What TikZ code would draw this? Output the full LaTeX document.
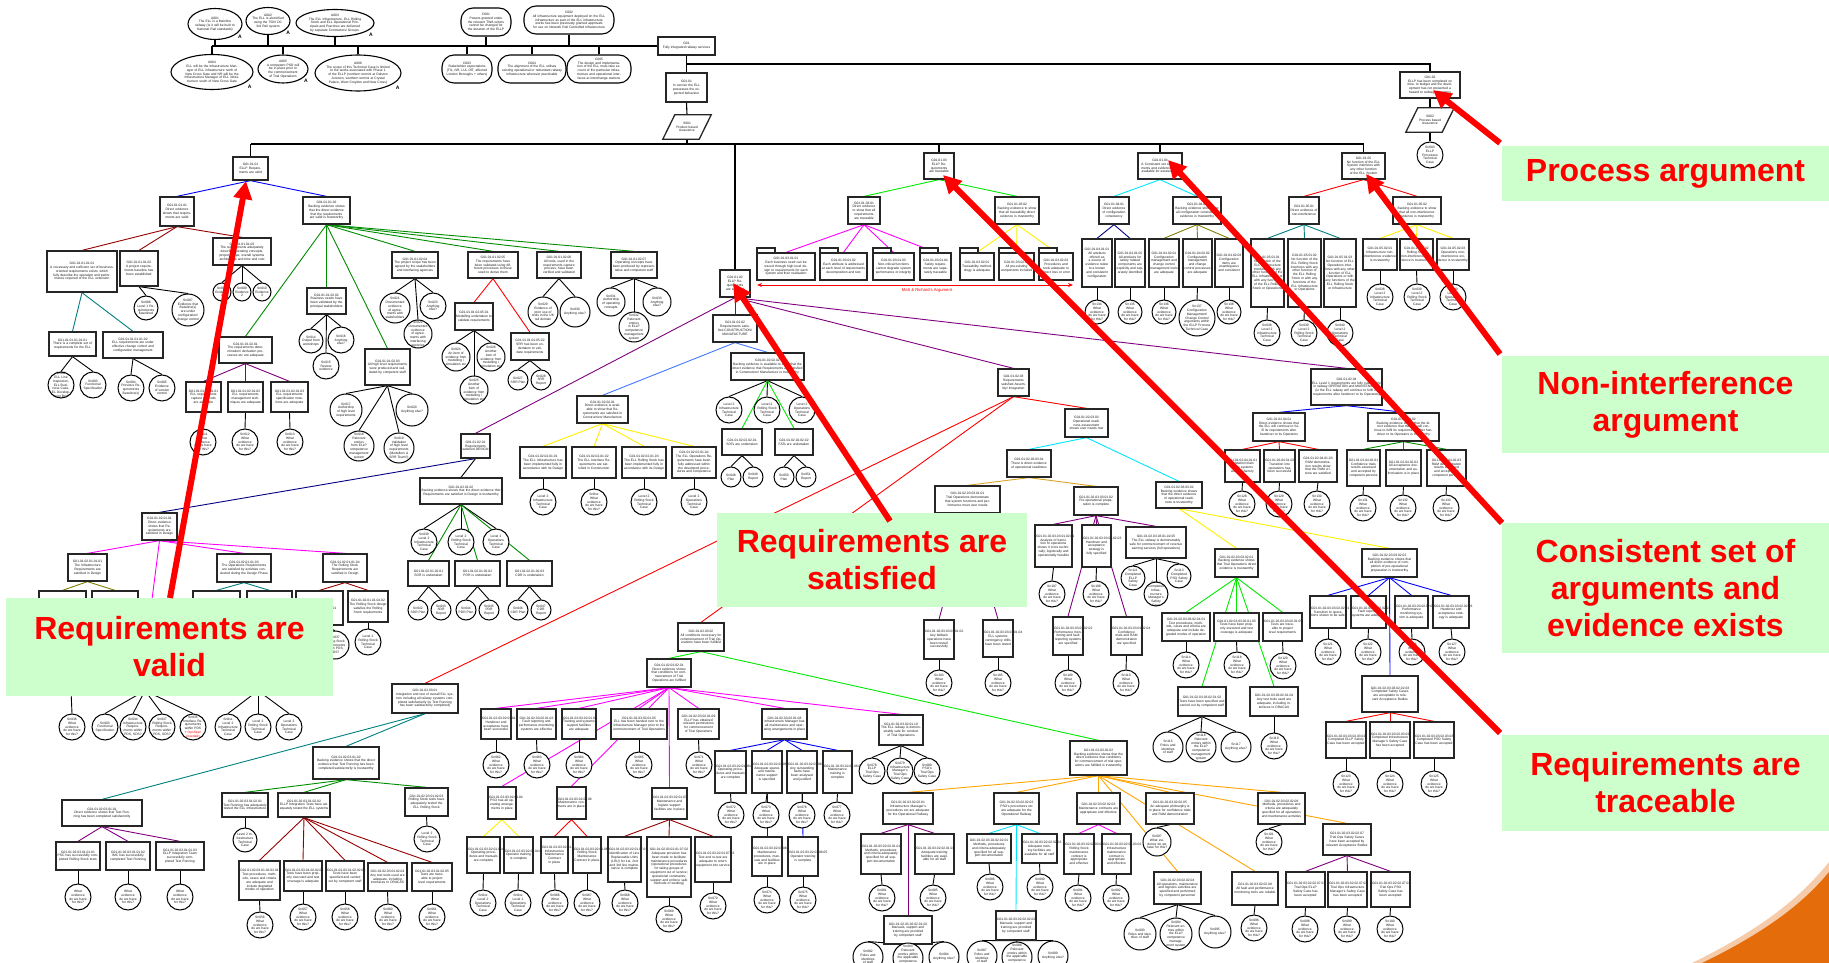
\documentclass[tikz,border=0pt]{standalone}
\usepackage{fontspec}
\setmainfont{Liberation Sans}
\usetikzlibrary{shapes.geometric,arrows.meta,calc}
\pgfdeclarelayer{back}
\pgfdeclarelayer{bg}
\pgfsetlayers{back,bg,main}
\definecolor{calloutgreen}{RGB}{204,255,204}
\definecolor{darkred}{RGB}{150,0,0}
\definecolor{lime}{RGB}{0,235,0}
\definecolor{navyb}{RGB}{0,0,128}
\definecolor{olivec}{RGB}{128,128,0}
\definecolor{tealc}{RGB}{0,128,128}
\definecolor{purplec}{RGB}{128,0,128}
\definecolor{cornf}{RGB}{70,120,255}
\definecolor{goldc}{RGB}{218,165,32}
\definecolor{orangec}{RGB}{255,165,0}
\definecolor{cornerorange}{RGB}{228,108,10}
\definecolor{greenc}{RGB}{0,140,0}
\definecolor{cyanc}{RGB}{0,230,255}
\definecolor{yellowc}{RGB}{255,240,0}
\definecolor{magc}{RGB}{255,0,255}
\definecolor{bluec}{RGB}{0,0,255}
\definecolor{redc}{RGB}{255,0,0}
\tikzset{
  gbox/.style={draw=black!85,line width=1.3pt,fill=white,inner sep=0pt,rectangle},
  gtxt/.style={font=\fontsize{3.3}{3.8}\selectfont,align=center,inner sep=0pt,text=black!90},
  sncirc/.style={draw=black,line width=1pt,fill=white,circle,inner sep=0pt},
  con/.style={line width=0.9pt},
  ctxline/.style={draw=black,line width=1.1pt},
  callout/.style={fill=calloutgreen,draw=none,rectangle,inner sep=0pt,align=center,text=red,font=\fontsize{32}{37}\selectfont\bfseries},
  bigarrow/.style={draw=red,line width=6pt,-{Triangle[length=18pt,width=18pt]}},
}
\newcommand{\gbx}[6]{%
  \pgfmathsetmacro{\gxc}{(#2+#4)/2}\pgfmathsetmacro{\gyc}{(#3+#5)/2}%
  \pgfmathsetmacro{\gw}{#4-#2}\pgfmathsetmacro{\gh}{#5-#3}\pgfmathsetmacro{\gtw}{#4-#2-2}%
  \node[gbox,minimum width=\gw pt,minimum height=\gh pt] (#1) at (\gxc,\gyc) {};%
  \node[gtxt,text width=\gtw pt] at (#1.center) {#6};}
\newcommand{\fbx}[6]{%
  \draw[gbox] (#2,{#3-5}) rectangle ({#2+18},#3);%
  \gbx{#1}{#2}{#3}{#4}{#5}{#6}}
\newcommand{\snc}[5]{%
  \pgfmathsetmacro{\sdia}{2*#4}\pgfmathsetmacro{\stw}{1.5*#4}%
  \node[sncirc,minimum size=\sdia pt] (#1) at (#2,#3) {};%
  \node[gtxt,text width=\stw pt] at (#1.center) {#5};}
\newcommand{\ctxa}[6]{%
  \node[ellipse,ctxline,fill=white,minimum width=#4pt,minimum height=#5pt,inner sep=0pt] (#1) at (#2,#3) {};%
  \pgfmathsetmacro{\ctw}{0.76*#4}%
  \node[gtxt,text width=\ctw pt] at (#1.center) {#6};%
  \node[font=\fontsize{5}{5}\selectfont\bfseries,inner sep=0pt] at ({#2+0.46*#4},{#3+0.42*#5}) {A};}
\newcommand{\ctxc}[6]{%
  \node[rectangle,rounded corners=12pt,ctxline,fill=white,minimum width=#4pt,minimum height=#5pt,inner sep=0pt] (#1) at (#2,#3) {};%
  \pgfmathsetmacro{\ctw}{#4-8}%
  \node[gtxt,text width=\ctw pt] at (#1.center) {#6};}
\newcommand{\pgram}[4]{%
  \node[inner sep=0pt,minimum width=36pt,minimum height=24pt] (#1) at (#2,#3) {};%
  \draw[gbox] ($(#1.south west)+(-6,0)$) -- ($(#1.south east)+(-6,0)$) -- ($(#1.north east)+(6,0)$) -- ($(#1.north west)+(6,0)$) -- cycle;%
  \node[gtxt,text width=30pt] at (#1.center) {#4};}
\newcommand{\lks}[3]{\begin{pgfonlayer}{bg}\foreach \kid in {#3}{\draw[con,#1] (#2.south) -- (\kid.north);}\end{pgfonlayer}}
\newcommand{\wev}{What evidence do we have for this?}
\begin{document}
\begin{tikzpicture}[x=1pt,y=-1pt]
\useasboundingbox (0,0) rectangle (1829,963);
\begin{pgfonlayer}{back}
\fill[white] (0,0) rectangle (1829,963);
\end{pgfonlayer}
% ---------------- top contexts
\ctxa{A001}{215}{24}{54}{31}{A001\\The ELL is a Mainline railway (ie it will be built to National Rail standards)}
\ctxa{A002}{268}{21}{44}{27}{A002\\The ELL is electrified using the 750V DC 3rd Rail system}
\ctxa{A003}{335}{23}{78}{27}{A003\\The ELL Infrastructure, ELL Rolling Stock and ELL Operational Principals and Practices are delivered by separate Contractors/ Groups.}
\ctxc{C001}{486}{22}{50}{28}{C001\\Powers granted under the relevant TWA orders cannot be changed for the duration of the ELLP}
\ctxc{C002}{569}{20}{90}{28}{C002\\All infrastructure equipment deployed on the ELL infrastructure as part of the ELL infrastructure works has been previously granted approvals for use on Network Rail Controlled Infrastructure}
\ctxa{A004}{212}{72}{82}{35}{A004\\ELL will be the Infrastructure Manager of ELL infrastructure north of New Cross Gate and NR will be the Infrastructure Manager of ELL infrastructure south of New Cross Gate}
\ctxa{A005}{283}{69}{50}{28}{A005\\A competent PSO will be in place prior to the commencement of Trial Operations}
\ctxa{A006}{358}{73}{86}{36}{A006\\The scope of this Technical Case is limited to the works associated with Phase 1 of the ELLP (northern termini at Dalston Junction, southern termini at Crystal Palace, West Croydon and New Cross)}
\ctxc{C003}{467}{69}{50}{28}{C003\\Stakeholder expectations (TfL, NR, LUL DfT, affected London Boroughs + others)}
\ctxc{C004}{532}{69}{68}{28}{C004\\The alignment of the ELL utilises existing operational or redundant railway infrastructure wherever practicable}
\ctxc{C005}{599}{69}{64}{28}{C005\\The design and implementation of the ELL must take account of the particular infrastructure and operational interfaces at interchange stations}
\gbx{G01}{658}{37}{715}{55}{G01\\Fully integrated railway services}
\gbx{G0101}{666}{73}{707}{102}{G01.01\\In service the ELL possesses the expected behaviour}
\pgram{S001}{687}{127}{S001\\Product based Assurance}
\gbx{G0102}{1400}{72}{1460}{98}{G01.02\\ELLP has been completed on time, to budget and the development has not presented a hazard to railway operations}
\pgram{S002}{1430}{120}{S002\\Process based Assurance}
\snc{Sn003}{1430}{155}{13}{Sn003\\ELLP Processes Technical Case}
\coordinate (y64) at (0,64);
\coordinate (y144) at (0,144);
\begin{pgfonlayer}{bg}
\draw[ctxline] (G01.west) -- (A004.north |- G01.west);
\foreach \cx in {A001,A002,A003,C001,C002}{\draw[ctxline] (\cx.south) -- (\cx.south |- G01.west);}
\foreach \cx in {A004,A005,A006,C003,C004,C005}{\draw[ctxline] (\cx.north) -- (\cx.north |- G01.west);}
\draw[ctxline] (G01.south) -- (G0101.north);
\draw[ctxline] (G0101.south) -- (S001.north);
\draw[ctxline] (G01.south |- y64) -| (G0102.north);
\draw[ctxline] (G0102.south) -- (S002.north);
\draw[ctxline] (S002.south) -- (Sn003.north);
\draw[ctxline] (S001.south) -- (S001.south |- y144);
\end{pgfonlayer}
% ---------------- level 1 goals
\gbx{V}{233}{157}{268}{180}{G01.01.01\\ELLP Requirements are valid}
\gbx{S}{720}{270}{750}{297}{G01.01.02\\ELLP Requirements are satisfied}
\gbx{T}{924}{153}{954}{179}{G01.01.03\\ELLP Requirements are traceable}
\gbx{K}{1138}{153}{1182}{179}{G01.01.04\\A Consistent set of arguments and evidences are available for assessment}
\gbx{N}{1342}{153}{1385}{179}{G01.01.05\\No function of the ELL System interferes with any other function of the ELL System}
\begin{pgfonlayer}{bg}
\draw[ctxline] (V.north |- y144) -- (N.north |- y144);
\foreach \cx in {V,S,T,K,N}{\draw[ctxline] (\cx.north |- y144) -- (\cx.north);}
\end{pgfonlayer}
% ---------------- VALID subtree
\gbx{V1}{160}{197}{194}{226}{G01.01.01.01\\Direct evidence shows that requirements are valid}
\gbx{V2}{303}{197}{350}{224}{G01.01.01.02\\Backing evidence shows that the direct evidence that the requirements are valid is trustworthy}
\lks{bluec}{V}{V1,V2}
\gbx{V11}{47}{251}{117}{292}{G01.01.01.01.01\\A necessary and sufficient set of business-oriented requirements exists, which fully describe the operation and performance required of the ELL extension}
\gbx{V12}{120}{251}{158}{286}{G01.01.01.01.02\\A project requirements baseline has been established}
\gbx{V13}{213}{238}{271}{265}{G01.01.01.01.03\\The requirements adequately describe operating concepts, project scope, overall systems architecture and time and cost}
\lks{darkred}{V1}{V11,V12,V13}
\snc{s6}{146}{308}{12}{Sn006\\Level 1 Requirements baselined}
\snc{s7}{188}{310}{16}{Sn007\\Evidence that Baseline(s) are under configuration/ change control}
\lks{black}{V12}{s6,s7}
\snc{s8}{222}{292}{9}{Sn008\\Evidence 1}
\snc{s9}{242}{292}{9}{Sn009\\Evidence 2}
\snc{s10}{262}{292}{9}{Sn010\\Evidence 3}
\lks{black}{V13}{s8,s9,s10}
\gbx{V111}{49}{332}{96}{356}{G01.01.01.01.01.01\\There is a complete set of requirements for the ELL}
\gbx{V112}{103}{332}{163}{358}{G01.01.01.01.01.02\\ELL requirements are under effective change control and configuration management}
\lks{tealc}{V11}{V111,V112}
\snc{s2}{61}{385}{13}{Sn002\\ELL Line Inspection, ELL Business Case, EL Development Brief}
\snc{s3}{93}{385}{13}{Sn003\\Functional Specification}
\snc{s4}{131}{388}{13}{Sn004\\Previous Requirements Baseline(s)}
\snc{s5}{162}{388}{13}{Sn005\\Evidence of version control}
\lks{black}{V111}{s2,s3}
\lks{black}{V112}{s4,s5}
\gbx{V21}{219}{337}{272}{363}{G01.01.01.02.01\\The requirements determination/ derivation processes etc are adequate}
\gbx{V22}{307}{288}{346}{314}{G01.01.01.02.02\\Business needs have been validated by the principal stakeholders}
\gbx{V23}{365}{349}{410}{385}{G01.01.01.02.03\\All high level requirements were produced and validated by competent staff}
\gbx{V24}{392}{252}{438}{278}{G01.01.01.02.04\\The project scope has been agreed by the stakeholders and interfacing agencies}
\gbx{V25}{468}{252}{518}{278}{G01.01.01.02.05\\The requirements have been validated using different processes to those used to derive them}
\gbx{V26}{537}{252}{581}{278}{G01.01.01.02.06\\All tools, used in the requirements capture process, have been verified and validated}
\gbx{V27}{611}{252}{657}{278}{G01.01.01.02.07\\Operating concepts have been produced by representative and competent staff}
\lks{greenc}{V2}{V21,V22,V23,V24,V25,V26,V27}
\gbx{V211}{186}{382}{221}{412}{G01.01.01.02.01.01\\ELL requirements capture methods are adequate}
\gbx{V212}{228}{382}{263}{412}{G01.01.01.02.01.02\\ELL requirements management techniques are adequate}
\gbx{V213}{271}{382}{308}{412}{G01.01.01.02.01.03\\ELL requirements specification notations are adequate}
\lks{purplec}{V21}{V211,V212,V213}
\snc{s11}{203}{442}{13}{Sn011\\\wev}
\snc{s12}{245}{442}{13}{Sn012\\\wev}
\snc{s13}{290}{442}{13}{Sn013\\\wev}
\lks{black}{V211}{s11}\lks{black}{V212}{s12}\lks{black}{V213}{s13}
\snc{s14}{311}{341}{12}{Sn014\\Output from workshops}
\snc{s15}{326}{366}{13}{Sn015\\Review evidence}
\snc{s16}{341}{340}{13}{Sn016\\Anything else?}
\lks{black}{V22}{s14,s15,s16}
\snc{s17}{346}{410}{16}{Sn017\\Authorship of high level requirements}
\snc{s18}{359}{446}{15}{Sn018\\Relevant entries from ELLP competence management system}
\snc{s19}{399}{448}{15}{Sn019\\Validation of high level requirements (Modellers \& SRR Team?)}
\snc{s20}{412}{410}{16}{Sn020\\Anything else?}
\lks{black}{V23}{s17,s18,s19,s20}
\snc{s21}{395}{308}{15}{Sn021\\Documented evidence of agreements with stakeholders}
\snc{s22}{418}{334}{14}{Sn022\\Documented evidence of agreements with interfacing agencies}
\snc{s23}{433}{306}{13}{Sn023\\Anything else?}
\lks{black}{V24}{s21,s22,s23}
\gbx{V251}{455}{303}{493}{330}{G01.01.01.02.05.01\\Modelling undertaken to validate requirements}
\gbx{V252}{511}{333}{549}{360}{G01.01.01.02.05.02\\SRR has been undertaken to validate requirements}
\lks{redc}{V25}{V251,V252}
\snc{s24}{456}{357}{14}{Sn024\\An item of evidence from modelling / simulation etc}
\snc{s25}{474}{390}{14}{Sn025\\Another item of evidence from modelling / simulation etc}
\snc{s26}{491}{357}{14}{Sn026\\Another item of evidence from modelling / simulation etc}
\lks{black}{V251}{s24,s25,s26}
\snc{s27}{518}{380}{10}{Sn027\\SRR Plan}
\snc{s28}{541}{380}{10}{Sn028\\SRR Report}
\lks{black}{V252}{s27,s28}
\snc{s29}{543}{312}{15}{Sn029\\Evidence of prior use of tools in the UK rail domain}
\snc{s30}{575}{312}{15}{Sn030\\Anything else?}
\lks{black}{V26}{s29,s30}
\snc{s31}{611}{302}{14}{Sn031\\Authorship of operating concepts}
\snc{s32}{634}{327}{15}{Sn032\\Relevant entries in ELLP competence management system}
\snc{s33}{657}{302}{14}{Sn033\\Anything else?}
\lks{black}{V27}{s31,s32,s33}
% ---------------- TRACEABLE subtree
\gbx{T1}{848}{197}{880}{224}{G01.01.03.01\\Direct evidence to show that all requirements are traceable}
\gbx{T2}{995}{197}{1039}{224}{G01.01.03.02\\Backing evidence to show that all traceability direct evidence is trustworthy}
\lks{lime}{T}{T1,T2}
\fbx{T11}{757}{253}{815}{280}{G01.01.03.01.01\\Each business need can be traced through high level design to requirements for each system and their realisation}
\fbx{T12}{820}{253}{867}{280}{G01.01.03.01.02\\Each attribute is addressed at each level of requirements decomposition and test}
\fbx{T13}{873}{253}{914}{280}{G01.01.03.01.03\\Non-critical functions cannot degrade system performance or integrity}
\fbx{T14}{920}{253}{951}{280}{G01.01.03.01.04\\Safety requirements are separately traceable}
\lks{magc}{T1}{T11,T12,T13,T14}
\fbx{T21}{960}{253}{994}{280}{G01.01.03.02.01\\Traceability methodology is adequate}
\fbx{T22}{999}{253}{1034}{280}{G01.01.03.02.02\\All pre-existing components included}
\fbx{T23}{1039}{253}{1073}{280}{G01.01.03.02.03\\Procedures and tools adequate to detect loss or error}
\lks{yellowc}{T2}{T21,T22,T23}
\coordinate (mr1) at (757,285);
\coordinate (mr2) at (1073,285);
\draw[redc,line width=0.8pt,{Stealth[length=5pt,width=4pt]}-{Stealth[length=5pt,width=4pt]}] (mr1) -- (mr2);
\node[font=\fontsize{4.2}{5}\selectfont,text=redc,inner sep=0pt] at (927,290) {Matt \& Richard's Argument};
% ---------------- CONSISTENT subtree
\gbx{K1}{1099}{197}{1129}{224}{G01.01.04.01\\Direct evidence of configuration consistency}
\gbx{K2}{1173}{197}{1221}{224}{G01.01.04.02\\Backing evidence shows that all configuration consistency evidence is trustworthy}
\lks{cyanc}{K}{K1,K2}
\gbx{K11}{1082}{239}{1112}{287}{G01.01.04.01.01\\All artefacts offered as a source of evidence relate to a known and consistent configuration}
\gbx{K12}{1115}{239}{1145}{287}{G01.01.04.01.02\\All artefacts for safety related components are explicitly and separately identified}
\lks{navyb}{K1}{K11,K12}
\gbx{K21}{1149}{239}{1179}{287}{G01.01.04.02.01\\Configuration management and change control management tools are adequate}
\gbx{K22}{1183}{239}{1212}{287}{G01.01.04.02.02\\Configuration management and change control processes are adequate}
\gbx{K23}{1215}{239}{1243}{287}{G01.01.04.02.03\\Configuration items are unambiguous and consistent}
\lks{olivec}{K2}{K21,K22,K23}
\snc{k1}{1097}{312}{12}{Sn134\\\wev}
\snc{k2}{1130}{312}{12}{Sn135\\\wev}
\snc{k3}{1164}{312}{12}{Sn136\\\wev}
\snc{k4}{1197}{318}{18}{Sn137\\Configuration Management/ Change Control arguments within the ELLP Process Technical Case}
\snc{k5}{1229}{312}{12}{Sn138\\\wev}
\lks{black}{K11}{k1}\lks{black}{K12}{k2}\lks{black}{K21}{k3}\lks{black}{K22}{k4}\lks{black}{K23}{k5}
% ---------------- NON-INTERFERENCE subtree
\gbx{N1}{1289}{197}{1319}{224}{G01.01.05.01\\Direct evidence of non-interference}
\gbx{N2}{1393}{197}{1441}{224}{G01.01.05.02\\Backing evidence to show that all non-interference evidence is trustworthy}
\lks{redc}{N}{N1,N2}
\gbx{N11}{1251}{239}{1284}{307}{G01.01.05.01.01\\No function of the ELL Infrastructure interferes with any other function of the ELL Infrastructure or with any functions of the ELL Rolling Stock or Operations}
\gbx{N12}{1288}{239}{1321}{307}{G01.01.05.01.02\\No function of the ELL Rolling Stock interferes with any other function of the ELL Rolling Stock or with any functions of the ELL Infrastructure or Operations}
\gbx{N13}{1324}{239}{1356}{307}{G01.01.05.01.03\\No function of ELL Operations interferes with any other function of ELL Operations or with any functions of the ELL Rolling Stock or Infrastructure}
\lks{tealc}{N1}{N11,N12,N13}
\snc{n1}{1267}{333}{13}{Sn038\\Level 2 Infrastructure Technical Case}
\snc{n2}{1304}{333}{13}{Sn039\\Level 2 Rolling Stock Technical Case}
\snc{n3}{1340}{333}{13}{Sn040\\Level 2 Operations Technical Case}
\lks{black}{N11}{n1}\lks{black}{N12}{n2}\lks{black}{N13}{n3}
\gbx{N21}{1363}{239}{1397}{270}{G01.01.05.02.01\\Infrastructure non-interference evidence is trustworthy}
\gbx{N22}{1400}{239}{1433}{270}{G01.01.05.02.02\\Rolling Stock non-interference evidence is trustworthy}
\gbx{N23}{1437}{239}{1469}{270}{G01.01.05.02.03\\Operations non-interference evidence is trustworthy}
\lks{yellowc}{N2}{N21,N22,N23}
\snc{n4}{1380}{297}{13}{Sn038\\Level 2 Infrastructure Technical Case}
\snc{n5}{1417}{297}{13}{Sn039\\Level 2 Rolling Stock Technical Case}
\snc{n6}{1453}{297}{13}{Sn040\\Level 2 Operations Technical Case}
\lks{black}{N21}{n4}\lks{black}{N22}{n5}\lks{black}{N23}{n6}
% ---------------- SATISFIED subtree
\gbx{SD}{461}{434}{490}{458}{G01.01.02.01\\Requirements satisfied DESIGN}
\gbx{SC}{713}{315}{757}{342}{G01.01.02.02\\Requirements satisfied CONSTRUCTION/ MANUFACTURE}
\gbx{SA}{998}{369}{1029}{396}{G01.01.02.03\\Requirements satisfied Assembly/ Integration}
\gbx{SO}{1311}{369}{1382}{405}{G01.01.02.04\\ELL Level 1 requirements are fully sustainable in railway OPERATION and MAINTENANCE (ie the ELL railway will continue to fulfil its requirements after handover to its Operators)}
\lks{purplec}{S}{SD,SC,SA,SO}
% design
\gbx{SD1}{142}{513}{177}{540}{G01.01.02.01.01\\Direct evidence shows that Requirements are satisfied in Design}
\gbx{SD2}{420}{478}{502}{504}{G01.01.02.01.02\\Backing evidence shows that the direct evidence that Requirements are satisfied in Design is trustworthy}
\lks{navyb}{SD}{SD1}
\lks{black}{SD}{SD2}
\gbx{SD11}{68}{554}{107}{581}{G01.01.02.01.01.01\\The Infrastructure Requirements are satisfied in Design}
\gbx{SD12}{126}{655}{164}{690}{G01.01.02.01.01.02\\The Interface Requirements are satisfied in Design}
\gbx{SD13}{217}{554}{271}{582}{G01.01.02.01.01.03\\The Operations Requirements are satisfied by activities conducted during the Design Phase}
\gbx{SD14}{323}{554}{367}{582}{G01.01.02.01.01.04\\The Rolling Stock Requirements are satisfied in Design}
\lks{magc}{SD1}{SD11,SD12,SD13,SD14}
\gbx{SD111}{39}{591}{86}{625}{G01.01.02.01.01.01.01\\The Infrastructure design satisfies the requirements}
\gbx{SD112}{92}{591}{138}{625}{G01.01.02.01.01.01.02\\}
\lks{olivec}{SD11}{SD111,SD112}
\gbx{SD131}{193}{591}{240}{625}{G01.01.02.01.01.03.01\\}
\gbx{SD132}{247}{591}{292}{625}{G01.01.02.01.01.03.02\\}
\lks{tealc}{SD13}{SD131,SD132}
\gbx{SD141}{296}{591}{343}{625}{G01.01.02.01.01.04.01\\}
\gbx{SD142}{348}{591}{388}{622}{G01.01.02.01.01.04.02\\The Rolling Stock design satisfies the Rolling Stock requirements}
\lks{darkred}{SD14}{SD141,SD142}
\snc{d1}{335}{645}{14}{Sn037\\Rolling Stock Requirements within PDS, SDS?}
\snc{d2}{368}{642}{13}{Level 2 Rolling Stock Technical Case}
\lks{black}{SD141}{d1}\lks{black}{SD142}{d2}
\gbx{SDh1}{52}{660}{90}{690}{}
\gbx{SDh3}{238}{660}{278}{690}{}
\lks{olivec}{SD111}{SDh1}
\lks{tealc}{SD132}{SDh3}
\snc{b1}{72}{727}{13}{Sn036\\\wev}
\snc{b2}{105}{727}{13}{Sn003\\Functional Specification}
\snc{b3}{133}{727}{13}{Sn034\\Infrastructure Requirements within PDS, SDS?}
\snc{b4}{162}{727}{13}{Sn037\\Rolling Stock Requirements within PDS, SDS?}
\snc{b5}{193}{727}{13}{Sn035\\Interface Requirements within PDS + \textcolor{red}{OpsSpec (needed)}}
\snc{b6}{228}{727}{13}{Sn0xx\\Level 2 Infrastructure Technical Case}
\snc{b7}{258}{727}{13}{Level 2 Rolling Stock Technical Case}
\snc{b8}{289}{727}{13}{Level 2 Operations Technical Case}
\lks{black}{SDh1}{b1}
\lks{black}{SD12}{b2,b3,b4,b5}
\lks{black}{SDh3}{b6,b7,b8}
\snc{e1}{424}{542}{13}{Sn039\\Level 2 Infrastructure Technical Case}
\snc{e2}{461}{542}{13}{Level 2 Rolling Stock Technical Case}
\snc{e3}{496}{542}{13}{Level 2 Operations Technical Case}
\lks{black}{SD2}{e1,e2,e3}
\gbx{SDR}{408}{561}{449}{586}{G01.01.02.01.02.01\\SDR is undertaken}
\gbx{PDR}{455}{561}{500}{586}{G01.01.02.01.02.02\\PDR is undertaken}
\gbx{CDR}{507}{561}{552}{586}{G01.01.02.01.02.03\\CDR is undertaken}
\lks{greenc}{SD2}{SDR,PDR,CDR}
\snc{f1}{418}{610}{10}{Sn042\\SDR Plan}
\snc{f2}{441}{610}{10}{Sn043\\SDR Report}
\snc{f3}{466}{610}{10}{Sn044\\PDR Plan}
\snc{f4}{489}{610}{10}{Sn045\\PDR Report}
\snc{f5}{518}{610}{10}{Sn046\\CDR Plan}
\snc{f6}{541}{610}{10}{Sn047\\CDR Report}
\lks{black}{SDR}{f1,f2}\lks{black}{PDR}{f3,f4}\lks{black}{CDR}{f5,f6}
% construction
\gbx{SC1}{577}{396}{628}{423}{G01.01.02.02.01\\Direct evidence is available to show that Requirements are satisfied in Construction/ Manufacture}
\gbx{SC2}{731}{353}{804}{380}{G01.01.02.02.02\\Backing evidence is available to show that the direct evidence that Requirements are satisfied in Construction/ Manufacture is trustworthy}
\lks{cornf}{SC}{SC1,SC2}
\gbx{SC11}{520}{447}{566}{478}{G01.01.02.02.01.01\\The ELL Infrastructure has been implemented fully in accordance with its Design}
\gbx{SC12}{572}{447}{616}{478}{G01.01.02.02.01.02\\The ELL Interface Requirements are satisfied in Construction}
\gbx{SC13}{622}{447}{666}{478}{G01.01.02.02.01.03\\The ELL Rolling Stock has been implemented fully in accordance with its Design}
\gbx{SC14}{672}{447}{716}{478}{G01.01.02.02.01.04\\The ELL Operations Requirements have been fully addressed within the developed procedures and competence}
\lks{yellowc}{SC1}{SC11,SC12,SC13,SC14}
\snc{g1}{543}{502}{13}{Level 2 Infrastructure Technical Case}
\snc{g2}{594}{502}{13}{Sn0xx\\\wev}
\snc{g3}{644}{502}{13}{Level 2 Rolling Stock Technical Case}
\snc{g4}{694}{502}{13}{Level 2 Operations Technical Case}
\lks{black}{SC11}{g1}\lks{black}{SC12}{g2}\lks{black}{SC13}{g3}\lks{black}{SC14}{g4}
\snc{h1}{729}{410}{13}{Level 2 Infrastructure Technical Case}
\snc{h2}{767}{410}{13}{Level 2 Rolling Stock Technical Case}
\snc{h3}{802}{410}{13}{Level 2 Operations Technical Case}
\lks{black}{SC2}{h1,h2,h3}
\gbx{SC21}{722}{429}{762}{455}{G01.01.02.02.02.01\\SDTs are undertaken}
\gbx{SC22}{775}{429}{813}{455}{G01.01.02.02.02.02\\FATs are undertaken}
\lks{lime}{SC2}{SC21,SC22}
\snc{h4}{731}{477}{10}{Sn048\\Plan}
\snc{h5}{753}{477}{10}{Sn049\\Report}
\snc{h6}{784}{477}{10}{Sn050\\Plan}
\snc{h7}{806}{477}{10}{Sn051\\Report}
\lks{black}{SC21}{h4,h5}\lks{black}{SC22}{h6,h7}
% assembly
\gbx{SA1}{392}{684}{458}{713}{G01.01.02.03.01\\Integration and test of overall ELL system including all railway systems completed satisfactorily (ie Test Running has been satisfactorily completed)}
\gbx{SA2}{678}{623}{724}{651}{G01.01.02.03.02\\All conditions necessary for commencement of Trial Operations have been fulfilled}
\gbx{SA3}{1065}{409}{1108}{437}{G01.01.02.03.03\\Operational readiness assessment shows user needs met}
\lks{redc}{SA}{SA1,SA2,SA3}
% SA3
\gbx{SA31}{1007}{450}{1051}{477}{G01.01.02.03.03.01\\There is direct evidence of operational readiness}
\gbx{SA32}{1156}{482}{1202}{508}{G01.01.02.03.03.02\\Backing evidence shows that the direct evidence of operational readiness is trustworthy}
\lks{cyanc}{SA3}{SA31,SA32}
\gbx{SA311}{935}{486}{1000}{513}{G01.01.02.03.03.01.01\\Trial Operations demonstrate that system functions and performance meet user needs}
\gbx{SA312}{1074}{487}{1118}{515}{G01.01.02.03.03.01.02\\Pre-operational preparation is complete}
\lks{goldc}{SA31}{SA311,SA312}
\gbx{SA3121}{1035}{525}{1072}{567}{G01.01.02.03.03.01.02.01\\Analysis of transition to operations shows it to be technically, logistically and operationally feasible}
\gbx{SA3122}{1082}{525}{1111}{567}{G01.01.02.03.03.01.02.03\\Handover and acceptance strategy is fully specified}
\gbx{SA3125}{1126}{527}{1186}{558}{G01.01.02.03.03.01.02.05\\The ELL railway is demonstrably safe for commencement of revenue earning services (full operations)}
\gbx{SA3123}{1053}{617}{1083}{655}{G01.01.02.03.03.01.02.02\\Performance monitoring and fault reporting systems are specified}
\gbx{SA3124}{1111}{617}{1142}{655}{G01.01.02.03.03.01.02.04\\Confidence trials and RAM demonstration are specified}
\lks{purplec}{SA312}{SA3121,SA3122,SA3125,SA3123,SA3124}
\snc{p1}{1052}{594}{13}{Sn107\\\wev}
\snc{p2}{1096}{594}{13}{Sn108\\\wev}
\snc{p3}{1133}{578}{12}{Sn111\\Completed ELLP Safety Case}
\snc{p4}{1156}{594}{12}{Sn112\\Completed Infrastructure Manager's Safety Case}
\snc{p5}{1179}{576}{12}{Sn113\\Completed PSO Safety Case}
\snc{p6}{1068}{683}{13}{Sn109\\\wev}
\snc{p7}{1126}{683}{13}{Sn110\\\wev}
\lks{black}{SA3121}{p1}\lks{black}{SA3122}{p2}\lks{black}{SA3125}{p3,p4,p5}\lks{black}{SA3123}{p6}\lks{black}{SA3124}{p7}
\gbx{SA3111}{924}{620}{954}{659}{G01.01.02.03.03.01.01.02\\Any fallback operations have been tested successfully}
\gbx{SA3112}{983}{620}{1013}{657}{G01.01.02.03.03.01.01.04\\ELL systems contingency drills have been tested}
\lks{purplec}{SA311}{SA3111,SA3112}
\snc{p8}{939}{683}{13}{Sn103\\\wev}
\snc{p9}{998}{683}{13}{Sn105\\\wev}
\lks{black}{SA3111}{p8}\lks{black}{SA3112}{p9}
\gbx{SA321}{1215}{549}{1258}{577}{G01.01.02.03.03.02.01\\Backing evidence shows that Trial Operations direct evidence is trustworthy}
\gbx{SA322}{1362}{549}{1417}{577}{G01.01.02.03.03.02.02\\Backing evidence shows that all direct evidence of completion of pre-operational preparation is trustworthy}
\lks{yellowc}{SA32}{SA321,SA322}
\gbx{SA3211}{1162}{613}{1210}{641}{G01.01.02.03.03.02.01.01\\Test procedures, methods, cases and criteria are adequate and include degraded modes of operation}
\gbx{SA3213}{1214}{613}{1259}{641}{G01.01.02.03.03.02.01.03\\Tests have been properly executed and test coverage is adequate}
\gbx{SA3215}{1263}{613}{1302}{641}{G01.01.02.03.03.02.01.05\\Tests are traceable to project level requirements}
\gbx{SA3212}{1178}{687}{1226}{716}{G01.01.02.03.03.02.01.02\\Tests have been specified and carried out by competent staff}
\gbx{SA3214}{1250}{687}{1298}{716}{G01.01.02.03.03.02.01.04\\Any test tools used are adequate, including interfaces to DRACAS}
\lks{lime}{SA321}{SA3211,SA3213,SA3215,SA3212,SA3214}
\snc{q1}{1186}{665}{13}{Sn114\\\wev}
\snc{q2}{1237}{665}{13}{Sn118\\\wev}
\snc{q3}{1283}{666}{13}{Sn120\\\wev}
\lks{black}{SA3211}{q1}\lks{black}{SA3213}{q2}\lks{black}{SA3215}{q3}
\snc{q4}{1168}{747}{15}{Sn115\\Roles and identities of staff}
\snc{q5}{1201}{747}{15}{Sn116\\Relevant entries within the ELLP competence management system}
\snc{q6}{1236}{747}{15}{Sn117\\Anything else?}
\snc{q7}{1274}{746}{13}{Sn119\\\wev}
\lks{black}{SA3212}{q4,q5,q6}\lks{black}{SA3214}{q7}
\gbx{SA3221}{1310}{596}{1346}{628}{G01.01.02.03.03.02.02.01\\Transition to operations shown to be safe}
\gbx{SA3222}{1351}{596}{1386}{628}{G01.01.02.03.03.02.02.02\\Fault reporting systems are adequate}
\gbx{SA3224}{1395}{596}{1428}{628}{G01.01.02.03.03.02.02.04\\Performance monitoring system is adequate}
\gbx{SA3226}{1433}{596}{1469}{628}{G01.01.02.03.03.02.02.06\\Handover and acceptance strategy is adequate}
\gbx{SA3223}{1362}{676}{1418}{712}{G01.01.02.03.03.02.02.03\\Completed Safety Cases are acceptable to relevant Acceptance Bodies}
\lks{bluec}{SA322}{SA3221,SA3222,SA3224,SA3226,SA3223}
\snc{q8}{1328}{652}{13}{Sn121\\\wev}
\snc{q9}{1368}{652}{13}{Sn122\\\wev}
\snc{q10}{1412}{652}{13}{Sn126\\\wev}
\snc{q11}{1452}{652}{13}{Sn127\\\wev}
\lks{black}{SA3221}{q8}\lks{black}{SA3222}{q9}\lks{black}{SA3224}{q10}\lks{black}{SA3226}{q11}
\gbx{SA32231}{1326}{722}{1366}{758}{G01.01.02.03.03.02.03.01\\Completed ELLP Safety Case has been accepted}
\gbx{SA32232}{1370}{722}{1410}{758}{G01.01.02.03.03.02.03.02\\Completed Infrastructure Manager's Safety Case has been accepted}
\gbx{SA32233}{1414}{722}{1454}{758}{G01.01.02.03.03.02.03.03\\Completed PSO Safety Case has been accepted}
\lks{redc}{SA3223}{SA32231,SA32232,SA32233}
\snc{q12}{1346}{784}{13}{Sn123\\\wev}
\snc{q13}{1390}{784}{13}{Sn124\\\wev}
\snc{q14}{1434}{784}{13}{Sn125\\\wev}
\lks{black}{SA32231}{q12}\lks{black}{SA32232}{q13}\lks{black}{SA32233}{q14}
% SO
\gbx{SO1}{1253}{413}{1305}{441}{G01.01.02.04.01\\Direct evidence shows that the ELL will continue to fulfil its requirements after handover to its Operators}
\gbx{SO2}{1368}{413}{1439}{441}{G01.01.02.04.02\\Backing evidence shows that the direct evidence that the ELL will continue to fulfil its requirements after handover to its Operators is trustworthy}
\lks{bluec}{SO}{SO1,SO2}
\gbx{SO11}{1225}{450}{1260}{482}{G01.01.02.04.01.01\\Validation trials show systems are satisfactory}
\gbx{SO12}{1264}{450}{1295}{482}{G01.01.02.04.01.02\\Transition into operations has been successful}
\gbx{SO13}{1299}{450}{1337}{482}{G01.01.02.04.01.03\\RAM demonstration results show that the RAM criteria are satisfied}
\lks{redc}{SO1}{SO11,SO12,SO13}
\snc{o1}{1242}{504}{13}{Sn128\\\wev}
\snc{o2}{1279}{504}{13}{Sn129\\\wev}
\snc{o3}{1317}{504}{13}{Sn130\\\wev}
\lks{black}{SO11}{o1}\lks{black}{SO12}{o2}\lks{black}{SO13}{o3}
\gbx{SO21}{1347}{450}{1380}{486}{G01.01.02.04.02.01\\Confidence trials results assessed and accepted by competent persons}
\gbx{SO22}{1386}{450}{1421}{486}{G01.01.02.04.02.02\\All acceptance documentation and authorisation is in place}
\gbx{SO23}{1427}{450}{1466}{486}{G01.01.02.04.02.03\\RAM demonstration results assessed and accepted by competent persons}
\lks{greenc}{SO2}{SO21,SO22,SO23}
\snc{o4}{1363}{508}{13}{Sn131\\\wev}
\snc{o5}{1403}{508}{13}{Sn132\\\wev}
\snc{o6}{1446}{508}{13}{Sn133\\\wev}
\lks{black}{SO21}{o4}\lks{black}{SO22}{o5}\lks{black}{SO23}{o6}
% SA2
\gbx{SA21}{647}{659}{691}{687}{G01.01.02.03.02.01\\Direct evidence shows that conditions for commencement of Trial Operations are fulfilled}
\gbx{SA22}{1070}{741}{1127}{775}{G01.01.02.03.02.02\\Backing evidence shows that the direct evidence that conditions for commencement of trial operations are fulfilled is trustworthy}
\lks{lime}{SA2}{SA21,SA22}
\gbx{SA211}{481}{709}{511}{739}{G01.01.02.03.02.01.01\\Handover and acceptance have been successful}
\gbx{SA212}{517}{709}{556}{739}{G01.01.02.03.02.01.02\\Fault reporting and performance monitoring systems are effective}
\gbx{SA213}{562}{709}{596}{739}{G01.01.02.03.02.01.03\\Training and systems support facilities are adequate}
\gbx{SA215}{611}{709}{667}{739}{G01.01.02.03.02.01.05\\ELL has been handed over to the Infrastructure Manager prior to the commencement of Trial Operations}
\gbx{SA219}{678}{709}{719}{739}{G01.01.02.03.02.01.09\\ELLP has obtained relevant permissions for commencement of Trial Operations}
\gbx{SA218}{762}{709}{807}{739}{G01.01.02.03.02.01.08\\Infrastructure Manager has all maintenance and operating arrangements in place}
\gbx{SA2110}{879}{715}{923}{745}{G01.01.02.03.02.01.10\\The ELL railway is demonstrably safe for conduct of Trial Operations}
\gbx{SA214}{488}{787}{516}{819}{G01.01.02.03.02.01.04\\PSO has all operating arrangements in place}
\gbx{SA216}{557}{787}{586}{819}{G01.01.02.03.02.01.06\\Maintenance contracts are in place}
\gbx{SA217}{652}{788}{687}{819}{G01.01.02.03.02.01.07\\Maintenance and logistic support facilities are in place}
\lks{magc}{SA21}{SA211,SA212,SA213,SA215,SA219,SA218,SA2110,SA214,SA216,SA217}
\snc{m1}{496}{765}{13}{Sn062\\\wev}
\snc{m2}{537}{765}{13}{Sn063\\\wev}
\snc{m3}{579}{765}{13}{Sn064\\\wev}
\snc{m4}{639}{765}{13}{Sn065\\\wev}
\snc{m5}{699}{765}{13}{Sn071\\\wev}
\lks{black}{SA211}{m1}\lks{black}{SA212}{m2}\lks{black}{SA213}{m3}\lks{black}{SA215}{m4}\lks{black}{SA219}{m5}
\gbx{SA2181}{715}{751}{746}{793}{G01.01.02.03.02.01.08.01\\Operating procedures and manuals are complete}
\gbx{SA2182}{752}{751}{782}{793}{G01.01.02.03.02.01.08.02\\Adequate spares and maintenance support is specified}
\gbx{SA2183}{787}{751}{817}{793}{G01.01.02.03.02.01.08.03\\Any outstanding faults have been analysed and justified}
\gbx{SA2186}{823}{751}{852}{793}{G01.01.02.03.02.01.08.06\\Maintenance training is complete}
\lks{bluec}{SA218}{SA2181,SA2182,SA2183,SA2186}
\snc{m6}{731}{815}{13}{Sn072\\\wev}
\snc{m7}{766}{815}{13}{Sn073\\\wev}
\snc{m8}{802}{815}{13}{Sn076\\\wev}
\snc{m9}{837}{815}{13}{Sn077\\\wev}
\gbx{SA2184}{752}{837}{782}{876}{G01.01.02.03.02.01.08.04\\Maintenance procedures, manuals and facilities are in place}
\gbx{SA2185}{788}{837}{818}{876}{G01.01.02.03.02.01.08.05\\Operator training is complete}
\lks{black}{SA2181}{m6}\lks{bluec}{SA2182}{SA2184}\lks{bluec}{SA2183}{SA2185}\lks{black}{SA2186}{m9}
\lks{black}{SA2182}{m7}\lks{black}{SA2183}{m8}
\snc{m10}{767}{900}{13}{Sn074\\\wev}
\snc{m11}{803}{900}{13}{Sn075\\\wev}
\lks{black}{SA2184}{m10}\lks{black}{SA2185}{m11}
\gbx{SA2141}{467}{837}{500}{873}{G01.01.02.03.02.01.04.01\\Operating procedures and manuals are complete}
\gbx{SA2142}{504}{837}{533}{873}{G01.01.02.03.02.01.04.02\\Operator training is complete}
\lks{yellowc}{SA214}{SA2141,SA2142}
\snc{m12}{483}{903}{13}{Sn0xx\\Level 2 Operations Technical Case}
\snc{m13}{518}{903}{13}{Sn0xx\\Level 2 Operations Technical Case}
\lks{black}{SA2141}{m12}\lks{black}{SA2142}{m13}
\gbx{SA2161}{541}{837}{568}{873}{G01.01.02.03.02.01.06.01\\Infrastructure Maintenance Contract in place}
\gbx{SA2162}{573}{837}{601}{873}{G01.01.02.03.02.01.06.02\\Rolling Stock Maintenance Contract in place}
\lks{redc}{SA216}{SA2161,SA2162}
\snc{m14}{555}{903}{13}{Sn066\\\wev}
\snc{m15}{587}{903}{13}{Sn067\\\wev}
\lks{black}{SA2161}{m14}\lks{black}{SA2162}{m15}
\gbx{SA2171}{608}{837}{641}{882}{G01.01.02.03.02.01.07.01\\Identification of Line Replaceable Units (LRU) for 1st, 2nd and 3rd line maintenance is complete}
\gbx{SA2172}{647}{837}{691}{897}{G01.01.02.03.02.01.07.02\\Adequate provision has been made to facilitate maintenance procedures (operational procedures for taking groups of equipment out of service; operational constraints; support and enforce safe methods of working)}
\gbx{SA2173}{695}{837}{731}{882}{G01.01.02.03.02.01.07.03\\Test and re-test are adequate to return equipment into service}
\lks{darkred}{SA217}{SA2171,SA2172,SA2173}
\snc{m16}{625}{903}{13}{Sn068\\\wev}
\snc{m17}{669}{919}{13}{Sn069\\\wev}
\snc{m18}{713}{906}{13}{Sn070\\\wev}
\lks{black}{SA2171}{m16}\lks{black}{SA2172}{m17}\lks{black}{SA2173}{m18}
\snc{m19}{872}{771}{13}{Sn078\\ELLP Trial Ops Safety Case}
\snc{m20}{900}{771}{13}{Sn079\\Infrastructure Manager's Trial Ops Safety Case}
\snc{m21}{927}{771}{13}{Sn080\\PSO's Trial Ops Safety Case}
\lks{black}{SA2110}{m19,m20,m21}
% SA22
\gbx{SA221}{883}{793}{933}{824}{G01.01.02.03.02.02.01\\Infrastructure Manager's procedures etc are adequate for the Operational Railway}
\gbx{SA222}{994}{793}{1039}{824}{G01.01.02.03.02.02.02\\PSO's procedures etc are adequate for the Operational Railway}
\gbx{SA223}{1077}{793}{1120}{824}{G01.01.02.03.02.02.03\\Maintenance contracts are appropriate and effective}
\gbx{SA225}{1146}{793}{1194}{824}{G01.01.02.03.02.02.05\\An adequate philosophy is in place for confidence trials and RAM demonstration}
\gbx{SA226}{1258}{793}{1305}{824}{G01.01.02.03.02.02.06\\Methods, procedures and criteria are adequately specified for all operations and maintenance activities}
\gbx{SA227}{1323}{824}{1371}{855}{G01.01.02.03.02.02.07\\Trial Ops Safety Cases have been accepted by relevant Acceptance Bodies}
\gbx{SA224}{1154}{872}{1201}{904}{G01.01.02.03.02.02.04\\All operations, maintenance and logistics activities are specified and performed by competent personnel}
\gbx{SA228}{1232}{872}{1278}{905}{G01.01.02.03.02.02.08\\All fault and performance monitoring tools are reliable}
\lks{orangec}{SA22}{SA221,SA222,SA223,SA225,SA226,SA227,SA224,SA228}
\snc{r1}{1157}{842}{14}{Sn097\\\wev}
\snc{r2}{1269}{842}{13}{Sn101\\\wev}
\lks{black}{SA225}{r1}\lks{black}{SA226}{r2}
\snc{r3}{1140}{934}{16}{Sn093\\Roles and identities of staff}
\snc{r4}{1176}{934}{16}{Sn094\\Relevant entries within the ELLP competence management system}
\snc{r5}{1215}{932}{16}{Sn095\\Anything else?}
\snc{r6}{1254}{928}{13}{Sn096\\\wev}
\lks{black}{SA224}{r3,r4,r5}\lks{black}{SA228}{r6}
\gbx{SA2271}{1286}{872}{1325}{907}{G01.01.02.03.02.02.07.01\\Trial Ops ELLP Safety Case has been accepted}
\gbx{SA2272}{1328}{872}{1367}{907}{G01.01.02.03.02.02.07.02\\Trial Ops Infrastructure Manager's Safety Case has been accepted}
\gbx{SA2273}{1371}{872}{1410}{907}{G01.01.02.03.02.02.07.03\\Trial Ops PSO Safety Case has been accepted}
\lks{purplec}{SA227}{SA2271,SA2272,SA2273}
\snc{r7}{1305}{929}{13}{Sn098\\\wev}
\snc{r8}{1347}{929}{13}{Sn099\\\wev}
\snc{r9}{1390}{929}{13}{Sn100\\\wev}
\lks{black}{SA2271}{r7}\lks{black}{SA2272}{r8}\lks{black}{SA2273}{r9}
\gbx{SA2211}{861}{834}{901}{874}{G01.01.02.03.02.02.01.01\\Methods, procedures and criteria adequately specified for all support documentation}
\gbx{SA2213}{915}{834}{954}{874}{G01.01.02.03.02.02.01.03\\Adequate training facilities are available for all staff}
\gbx{SA2212}{884}{916}{932}{944}{G01.01.02.03.02.02.01.02\\Manuals, support and training are provided by competent staff}
\lks{purplec}{SA221}{SA2211,SA2213,SA2212}
\snc{r10}{882}{898}{13}{Sn081\\\wev}
\snc{r11}{933}{898}{13}{Sn085\\\wev}
\lks{black}{SA2211}{r10}\lks{black}{SA2213}{r11}
\snc{r12}{868}{957}{15}{Sn082\\Roles and identities of staff}
\snc{r13}{908}{958}{15}{Sn083\\Relevant entries within the applicable competence management system}
\snc{r14}{944}{957}{15}{Sn084\\Anything else?}
\lks{black}{SA2212}{r12,r13,r14}
\gbx{SA2221}{967}{834}{1011}{863}{G01.01.02.03.02.02.02.01\\Methods, procedures and criteria adequately specified for all support documentation}
\gbx{SA2223}{1022}{834}{1057}{863}{G01.01.02.03.02.02.02.03\\Adequate training facilities are available for all staff}
\gbx{SA2222}{996}{911}{1036}{940}{G01.01.02.03.02.02.02.02\\Manuals, support and training are provided by competent staff}
\lks{cyanc}{SA222}{SA2221,SA2223,SA2222}
\snc{r15}{990}{887}{13}{Sn086\\\wev}
\snc{r16}{1040}{887}{13}{Sn090\\\wev}
\lks{black}{SA2221}{r15}\lks{black}{SA2223}{r16}
\snc{r17}{982}{956}{15}{Sn087\\Roles and identities of staff}
\snc{r18}{1017}{957}{15}{Sn088\\Relevant entries within the applicable competence management system}
\snc{r19}{1053}{956}{15}{Sn089\\Anything else?}
\lks{black}{SA2222}{r17,r18,r19}
\gbx{SA2231}{1064}{834}{1094}{874}{G01.01.02.03.02.02.03.01\\Rolling Stock maintenance contract is appropriate and effective}
\gbx{SA2232}{1102}{834}{1131}{874}{G01.01.02.03.02.02.03.02\\Infrastructure maintenance contract is appropriate and effective}
\lks{magc}{SA223}{SA2231,SA2232}
\snc{r20}{1078}{898}{13}{Sn091\\\wev}
\snc{r21}{1116}{898}{13}{Sn092\\\wev}
\lks{black}{SA2231}{r20}\lks{black}{SA2232}{r21}
% SA1
\gbx{SA11}{62}{800}{142}{826}{G01.01.02.03.01.01\\Direct evidence shows that Test Running has been completed satisfactorily}
\gbx{SA12}{313}{747}{379}{779}{G01.01.02.03.01.02\\Backing evidence shows that the direct evidence that Test Running has been completed satisfactorily is trustworthy}
\lks{tealc}{SA1}{SA11,SA12}
\gbx{SA111}{56}{842}{100}{870}{G01.01.02.03.01.01.01\\PSC has successfully completed Rolling Stock tests}
\gbx{SA112}{106}{842}{150}{870}{G01.01.02.03.01.01.02\\IMC has successfully completed Test Running}
\gbx{SA113}{156}{842}{204}{870}{G01.01.02.03.01.01.03\\ELLP Integration Team successfully completed Test Running}
\lks{purplec}{SA11}{SA111,SA112,SA113}
\snc{t1}{78}{897}{13}{\wev}
\snc{t2}{128}{897}{13}{\wev}
\snc{t3}{180}{897}{13}{\wev}
\lks{black}{SA111}{t1}\lks{black}{SA112}{t2}\lks{black}{SA113}{t3}
\gbx{SA121}{222}{793}{268}{817}{G01.01.02.03.01.02.01\\Test Running has adequately tested the ELL Infrastructure}
\gbx{SA122}{278}{793}{330}{817}{G01.01.02.03.01.02.02\\ELLP Integration Tests have adequately tested the ELL systems}
\gbx{SA13}{405}{788}{448}{816}{G01.01.02.03.01.02.03\\Rolling Stock tests have adequately tested the ELL Rolling Stock}
\lks{greenc}{SA12}{SA121,SA122,SA13}
\snc{t4}{245}{840}{12}{Level 2 Infrastructure Technical Case}
\snc{t5}{427}{839}{13}{Level 2 Rolling Stock Technical Case}
\lks{black}{SA121}{t4}\lks{black}{SA13}{t5}
\gbx{SA1221}{239}{861}{280}{900}{G01.01.02.03.01.02.02.01\\Test procedures, methods, cases and criteria are adequate and include degraded modes of operation}
\gbx{SA1222}{284}{861}{322}{891}{G01.01.02.03.01.02.02.02\\Tests have been properly executed and test coverage is adequate}
\gbx{SA1223}{326}{861}{364}{891}{G01.01.02.03.01.02.02.03\\Tests have been specified and carried out by competent staff}
\gbx{SA1224}{368}{863}{407}{891}{G01.01.02.03.01.02.04\\Any test tools used are adequate, including interfaces to DRACAS}
\gbx{SA1225}{412}{863}{452}{891}{G01.01.02.03.01.02.05\\Tests are traceable to project level requirements}
\lks{darkred}{SA122}{SA1221,SA1222,SA1223,SA1224,SA1225}
\snc{t6}{260}{925}{13}{Sn056\\\wev}
\snc{t7}{303}{917}{13}{Sn057\\\wev}
\snc{t8}{345}{917}{13}{Sn058\\\wev}
\snc{t9}{388}{917}{13}{Sn060\\\wev}
\snc{t10}{432}{917}{13}{Sn061\\\wev}
\lks{black}{SA1221}{t6}\lks{black}{SA1222}{t7}\lks{black}{SA1223}{t8}\lks{black}{SA1224}{t9}\lks{black}{SA1225}{t10}
% ---------------- callouts
\node[callout,minimum width=327pt,minimum height=55pt] (cP) at (1665.5,173.5) {Process argument};
\node[callout,minimum width=327pt,minimum height=97pt] (cN) at (1665.5,404.5) {Non-interference\\argument};
\node[callout,minimum width=327pt,minimum height=130pt] (cC) at (1665.5,588) {Consistent set of\\arguments and\\evidence exists};
\node[callout,minimum width=327pt,minimum height=96pt] (cT) at (1665.5,783) {Requirements are\\traceable};
\node[callout,minimum width=310pt,minimum height=94pt] (cS) at (872,560) {Requirements are\\satisfied};
\node[callout,minimum width=327pt,minimum height=98pt] (cV) at (169.5,647) {Requirements are\\valid};
% ---------------- red arrows
\coordinate (aP1) at (1500,143); \coordinate (aP2) at (1433,90);
\coordinate (aN1) at (1500,354); \coordinate (aN2) at (1366,174);
\coordinate (aC1) at (1502,523); \coordinate (aC2) at (1168,160);
\coordinate (aT1) at (1500,733); \coordinate (aT2) at (943,175);
\coordinate (aS1) at (890,521); \coordinate (aS2) at (733,283);
\coordinate (aV1) at (170,598); \coordinate (aV2) at (246,181);
\draw[bigarrow] (aP1) -- (aP2);
\draw[bigarrow] (aN1) -- (aN2);
\draw[bigarrow] (aC1) -- (aC2);
\draw[bigarrow] (aT1) -- (aT2);
\draw[bigarrow] (aS1) -- (aS2);
\draw[bigarrow] (aV1) -- (aV2);
% ---------------- orange corner
\fill[cornerorange!35] (1692,963) .. controls (1755,932) and (1797,902) .. (1829,862) -- (1829,963) -- cycle;
\fill[cornerorange] (1702,963) .. controls (1762,934) and (1802,905) .. (1829,872) -- (1829,963) -- cycle;
\end{tikzpicture}
\end{document}
